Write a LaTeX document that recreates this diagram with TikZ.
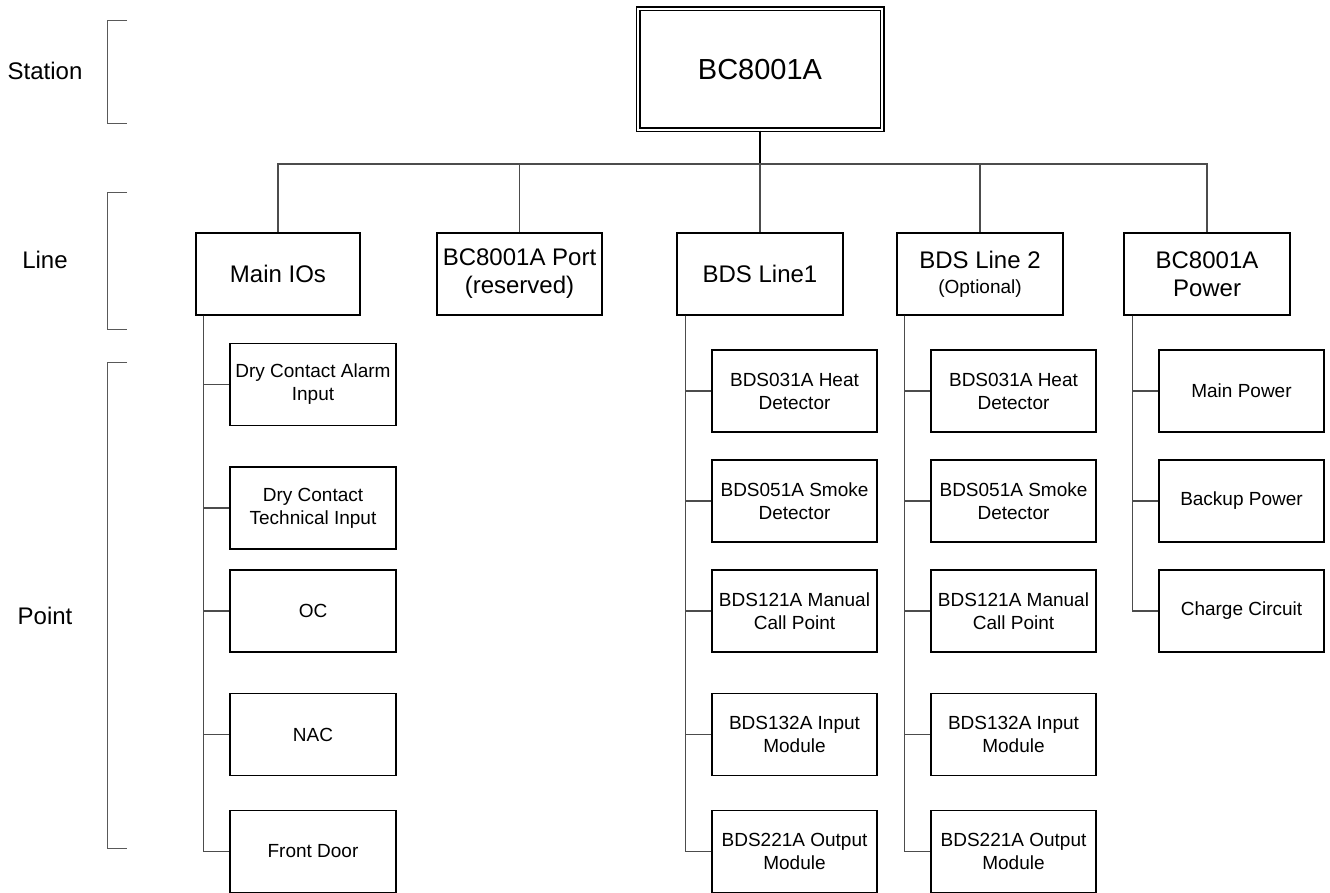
\documentclass[tikz,border=0pt]{standalone}
\usepackage{fontspec}
\setmainfont{Liberation Sans}
\begin{document}
\begin{tikzpicture}[x=1pt,y=-1pt,
  box/.style={draw=black,line width=1.3pt,minimum width=165pt,minimum height=82pt,inner sep=0pt,align=center},
  top/.style={box,font=\fontsize{24}{28}\selectfont},
  child/.style={box,font=\fontsize{19}{23}\selectfont},
  conn/.style={draw=black!70,line width=1.1pt},
  brk/.style={draw=black!65,line width=0.9pt},
  lbl/.style={font=\fontsize{24}{28}\selectfont,inner sep=0pt}]
\useasboundingbox (0,0) rectangle (1330,893);
% brackets
\draw[brk] (127,20) -- (107,20) -- (107,123) -- (127,123);
\draw[brk] (127,192) -- (107,192) -- (107,329) -- (127,329);
\draw[brk] (127,362) -- (107,362) -- (107,848) -- (127,848);
\node[lbl] (lstation) at (45,71) {Station};
\node[lbl] (lline) at (45,260) {Line};
\node[lbl] (lpoint) at (45,616) {Point};
% station
\node[draw=black,line width=1.2pt,double,double distance=2.6pt,minimum width=244pt,minimum height=121pt,inner sep=0pt,font=\fontsize{29}{33}\selectfont] (bc) at (760,69.5) {BC8001A};
% line level
\node[top,minimum width=164pt] (mio) at (278,274) {Main IOs};
\node[top] (port) at (519.5,274) {BC8001A Port\\(reserved)};
\node[top,minimum width=166pt] (l1) at (760,274) {BDS Line1};
\node[top,minimum width=166pt] (l2) at (980,274) {BDS Line 2\\[-3pt]{\fontsize{19}{23}\selectfont(Optional)}};
\node[top,minimum width=166pt] (pw) at (1207,274) {BC8001A\\Power};
\coordinate (bus) at (760,164);
\draw[black,line width=2pt] (bc.south) -- (bus);
\foreach \n in {mio,port,l1,l2,pw} \draw[conn] (bus) -| (\n.north);
% Main IOs children
\node[child,minimum width=166pt] (m1) at (313,384.5) {Dry Contact Alarm\\Input};
\node[child,minimum width=166pt] (m2) at (313,508) {Dry Contact\\Technical Input};
\node[child,minimum width=166pt] (m3) at (313,611) {OC};
\node[child,minimum width=166pt] (m4) at (313,734.5) {NAC};
\node[child,minimum width=166pt] (m5) at (313,851.5) {Front Door};
\foreach \c in {m1,m2,m3,m4,m5} \draw[conn] ([xshift=8pt]mio.south west) |- (\c.west);
% Line1 children
\node[child] (a1) at (794.5,391) {BDS031A Heat\\Detector};
\node[child] (a2) at (794.5,501) {BDS051A Smoke\\Detector};
\node[child] (a3) at (794.5,611) {BDS121A Manual\\Call Point};
\node[child] (a4) at (794.5,734.5) {BDS132A Input\\Module};
\node[child] (a5) at (794.5,851.5) {BDS221A Output\\Module};
\foreach \c in {a1,a2,a3,a4,a5} \draw[conn] ([xshift=9pt]l1.south west) |- (\c.west);
% Line2 children
\node[child] (b1) at (1013.5,391) {BDS031A Heat\\Detector};
\node[child] (b2) at (1013.5,501) {BDS051A Smoke\\Detector};
\node[child] (b3) at (1013.5,611) {BDS121A Manual\\Call Point};
\node[child] (b4) at (1013.5,734.5) {BDS132A Input\\Module};
\node[child] (b5) at (1013.5,851.5) {BDS221A Output\\Module};
\foreach \c in {b1,b2,b3,b4,b5} \draw[conn] ([xshift=8.5pt]l2.south west) |- (\c.west);
% Power children
\node[child] (p1) at (1241.5,391) {Main Power};
\node[child] (p2) at (1241.5,501) {Backup Power};
\node[child] (p3) at (1241.5,611) {Charge Circuit};
\foreach \c in {p1,p2,p3} \draw[conn] ([xshift=9pt]pw.south west) |- (\c.west);
\end{tikzpicture}
\end{document}
